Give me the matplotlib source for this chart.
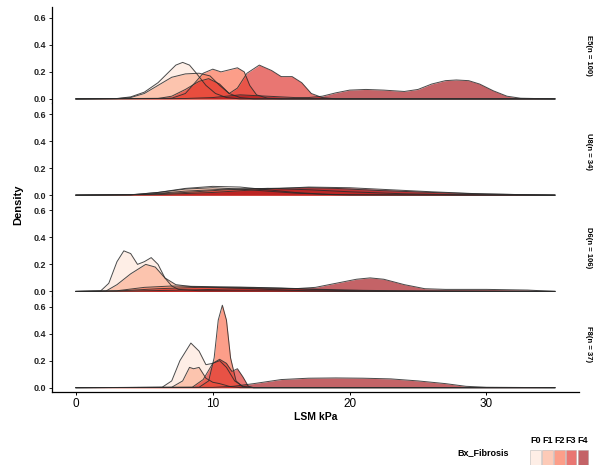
import matplotlib
matplotlib.use("Agg")
import matplotlib.pyplot as plt
from matplotlib.patches import Rectangle

plt.rcParams["font.family"] = ["Liberation Sans", "DejaVu Sans"]

# fibrosis stages and fill colours (brewer Reds)
stages = ["F0", "F1", "F2", "F3", "F4"]
stage_colors = ["#FEE5D9", "#FCAE91", "#FB6A4A", "#DE2D26", "#A50F15"]

strip_labels = ["E5(n = 100)", "U8(n = 34)", "D6(n = 106)", "F8(n = 37)"]

# density curves, (LSM kPa, density)
e5_f0 = [(0, 0), (3, 0.003), (4, 0.015), (5, 0.05), (6, 0.12), (6.8, 0.2), (7.3, 0.25), (7.8, 0.27),
         (8.3, 0.25), (8.8, 0.19), (9.5, 0.1), (10.2, 0.04), (11, 0.01), (12, 0), (35, 0)]
e5_f1 = [(0, 0), (3, 0.002), (4, 0.01), (5, 0.04), (6, 0.1), (7, 0.16), (8, 0.185), (9, 0.19),
         (9.8, 0.17), (10.5, 0.1), (11.2, 0.04), (12, 0.01), (13, 0), (35, 0)]
e5_f2 = [(0, 0), (7, 0.005), (8, 0.04), (8.7, 0.12), (9.3, 0.19), (10, 0.22), (10.6, 0.2), (11, 0.21),
         (11.8, 0.23), (12.3, 0.2), (12.7, 0.1), (13.2, 0.03), (14, 0.005), (15, 0), (35, 0)]
e5_f3 = [(0, 0), (6, 0.003), (7, 0.02), (8, 0.07), (9, 0.13), (9.7, 0.15), (10.5, 0.11), (11.2, 0.04),
         (11.8, 0.08), (12.5, 0.19), (13.4, 0.25), (14.3, 0.21), (15, 0.165), (15.8, 0.165), (16.5, 0.12),
         (17.2, 0.04), (18, 0.01), (19, 0), (35, 0)]
e5_f4 = [(0, 0), (8, 0.003), (10, 0.01), (12, 0.03), (14, 0.02), (16, 0.01), (17, 0.01), (18, 0.02),
         (19, 0.045), (20, 0.065), (21.2, 0.07), (22.5, 0.065), (24, 0.055), (25, 0.07), (26, 0.11),
         (27, 0.135), (27.8, 0.14), (28.7, 0.135), (29.5, 0.11), (30.5, 0.06), (31.5, 0.02),
         (32.5, 0.005), (35, 0)]

u8_f0 = [(0, 0), (4, 0.002), (6, 0.02), (8, 0.05), (10, 0.065), (12, 0.06), (14, 0.04), (16, 0.02),
         (18, 0.008), (20, 0.002), (35, 0)]
u8_f1 = [(0, 0), (4, 0.003), (6, 0.02), (8, 0.045), (10, 0.055), (12, 0.045), (14, 0.03), (16, 0.015),
         (19, 0.003), (35, 0)]
u8_f2 = [(0, 0), (5, 0.005), (8, 0.03), (11, 0.045), (14, 0.05), (17, 0.04), (20, 0.025), (24, 0.01),
         (28, 0.003), (35, 0)]
u8_f3 = [(0, 0), (5, 0.005), (8, 0.02), (11, 0.04), (14, 0.05), (17, 0.055), (19, 0.05), (22, 0.035),
         (26, 0.02), (30, 0.008), (34, 0.002), (35, 0)]
u8_f4 = [(0, 0), (6, 0.004), (10, 0.02), (14, 0.045), (17, 0.06), (20, 0.055), (23, 0.04), (26, 0.025),
         (29, 0.012), (32, 0.005), (35, 0)]

d6_f0 = [(0, 0), (1.8, 0.003), (2.4, 0.06), (3, 0.22), (3.5, 0.3), (4, 0.28), (4.5, 0.2), (5, 0.22),
         (5.5, 0.25), (6, 0.2), (6.5, 0.1), (7, 0.04), (7.5, 0.015), (9, 0.005), (35, 0)]
d6_f1 = [(0, 0), (2.2, 0.003), (3, 0.05), (4, 0.13), (5.1, 0.2), (5.8, 0.18), (6.5, 0.1), (7.3, 0.05),
         (8.5, 0.035), (10, 0.03), (12, 0.025), (14, 0.015), (17, 0.004), (20, 0), (35, 0)]
d6_f2 = [(0, 0), (3, 0.005), (5, 0.03), (7, 0.04), (10, 0.035), (13, 0.03), (16, 0.02), (19, 0.008),
         (22, 0.002), (35, 0)]
d6_f3 = [(0, 0), (3, 0.003), (6, 0.02), (9, 0.03), (12, 0.03), (15, 0.025), (18, 0.015), (21, 0.008),
         (25, 0.003), (35, 0)]
d6_f4 = [(0, 0), (4, 0.003), (8, 0.01), (12, 0.02), (16, 0.02), (17.5, 0.03), (19, 0.06), (20.5, 0.09),
         (21.5, 0.1), (22.5, 0.09), (24, 0.05), (25.5, 0.02), (27, 0.015), (30, 0.015), (33, 0.01),
         (35, 0)]

f8_f0 = [(0, 0), (6.3, 0.003), (7, 0.05), (7.6, 0.2), (8.4, 0.33), (9, 0.27), (9.5, 0.17), (10, 0.18),
         (10.5, 0.2), (11, 0.15), (11.6, 0.05), (12.2, 0.01), (13, 0), (35, 0)]
f8_f1 = [(0, 0), (7, 0.003), (7.8, 0.05), (8.3, 0.15), (8.6, 0.14), (9, 0.15), (9.5, 0.07), (10, 0.04),
         (10.5, 0.03), (11.2, 0.01), (12, 0), (35, 0)]
f8_f2 = [(0, 0), (9, 0.003), (9.7, 0.05), (10.1, 0.22), (10.4, 0.5), (10.7, 0.61), (11, 0.5), (11.3, 0.22),
         (11.7, 0.05), (12.2, 0.005), (13, 0), (35, 0)]
f8_f3 = [(0, 0), (8.5, 0.003), (9.3, 0.06), (10, 0.18), (10.5, 0.21), (11, 0.18), (11.4, 0.12),
         (11.8, 0.14), (12.2, 0.08), (12.6, 0.01), (13, 0), (35, 0)]
f8_f4 = [(0, 0), (10, 0.002), (11.5, 0.01), (13, 0.03), (15, 0.06), (17, 0.07), (19, 0.072), (21, 0.07),
         (23, 0.065), (25, 0.05), (27, 0.03), (28.5, 0.01), (30, 0.003), (35, 0)]

panels = [
    [e5_f0, e5_f1, e5_f2, e5_f3, e5_f4],
    [u8_f0, u8_f1, u8_f2, u8_f3, u8_f4],
    [d6_f0, d6_f1, d6_f2, d6_f3, d6_f4],
    [f8_f0, f8_f1, f8_f2, f8_f3, f8_f4],
]

fig, axes = plt.subplots(4, 1, figsize=(6.08, 4.65), dpi=100, sharex=True)
fig.subplots_adjust(left=0.0855, right=0.952, top=0.985, bottom=0.157, hspace=0)

for i, ax in enumerate(axes):
    for curve, col in zip(panels[i], stage_colors):
        xs = [p[0] for p in curve]
        ys = [p[1] for p in curve]
        ax.fill_between(xs, ys, 0, color=col, alpha=0.65, linewidth=0)
        ax.plot(xs, ys, color="#2a2a2a", lw=0.7, alpha=0.85)
    ax.set_xlim(-1.75, 36.75)
    ax.set_ylim(-0.032, 0.68)
    ax.set_yticks([0.0, 0.2, 0.4, 0.6])
    ax.set_yticklabels(["0.0", "0.2", "0.4", "0.6"], fontweight="bold")
    ax.tick_params(axis="y", labelsize=6.5, length=2.5, width=0.7, pad=1.5, colors="#222222")
    for s in ["top", "right", "bottom"]:
        ax.spines[s].set_visible(False)
    ax.spines["left"].set_linewidth(0.9)
    ax.text(1.012, 0.5, strip_labels[i], transform=ax.transAxes, rotation=270,
            ha="left", va="center", fontsize=5.5, fontweight="bold")
    if i < 3:
        ax.tick_params(axis="x", bottom=False)

axes[-1].spines["bottom"].set_visible(True)
axes[-1].spines["bottom"].set_linewidth(0.9)
axes[-1].set_xticks([0, 10, 20, 30])
axes[-1].tick_params(axis="x", labelsize=8.5, length=2.5, width=0.7, pad=2)
axes[-1].set_xlabel("LSM kPa", fontsize=7.5, labelpad=1, fontweight="bold")
fig.text(0.03, 0.56, "Density", rotation=90, ha="center", va="center", fontsize=8, fontweight="bold")

# horizontal legend at the bottom right
fig.text(0.752, 0.026, "Bx_Fibrosis", fontsize=6.5, ha="left", va="center", fontweight="bold")
for k, (lab, col) in enumerate(zip(stages, stage_colors)):
    x0 = 0.872 + k * 0.0195
    fig.patches.append(Rectangle((x0, 0.0), 0.0175, 0.033, transform=fig.transFigure,
                                 facecolor=col, alpha=0.65, edgecolor="#999999", lw=0.4))
    fig.text(x0 + 0.0088, 0.053, lab, fontsize=6.5, ha="center", va="center", fontweight="bold")

fig.savefig("out.png", dpi=100)
